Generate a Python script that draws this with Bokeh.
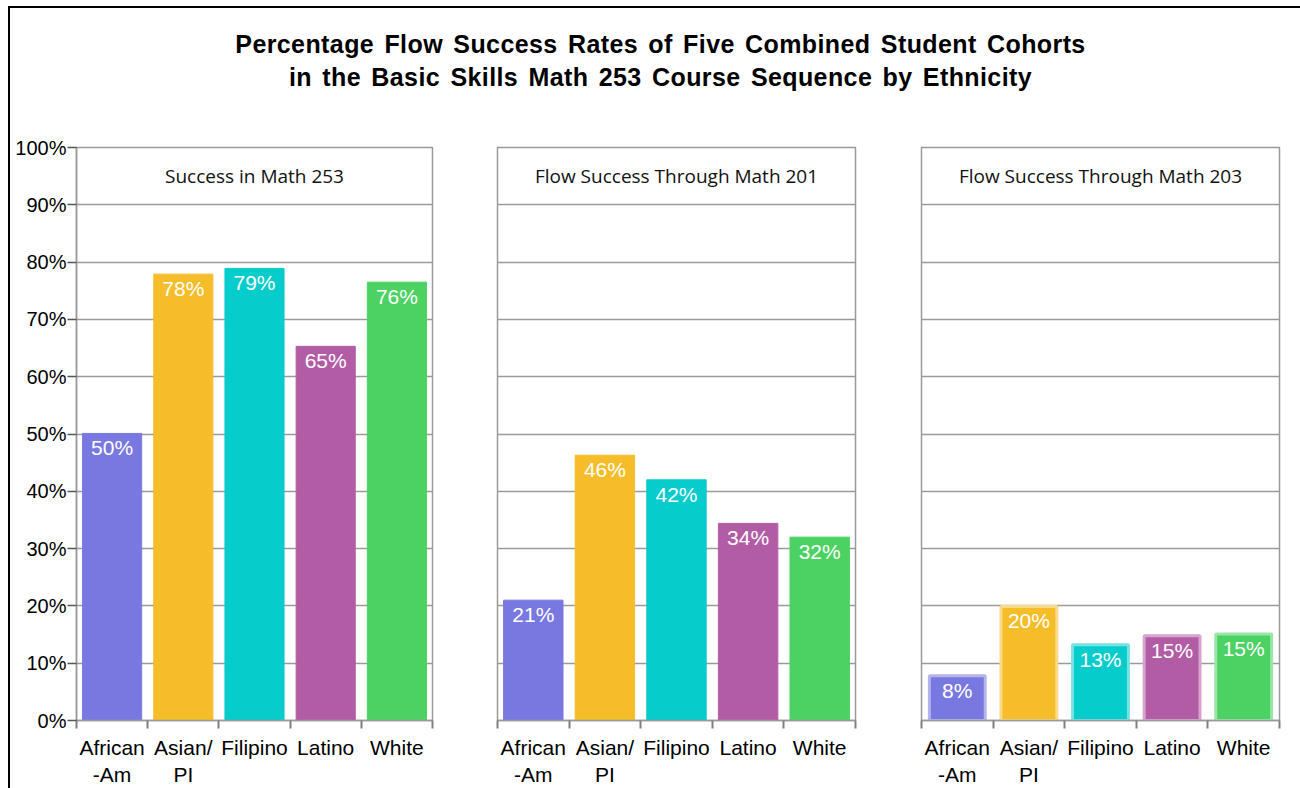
from bokeh.plotting import figure
from bokeh.layouts import row, column
from bokeh.models import FixedTicker, Range1d, Div, Label, ColumnDataSource
from bokeh.core.properties import value
from bokeh.embed import file_html
from bokeh.resources import INLINE

# ---------------- data ----------------
categories = ["African\n-Am", "Asian/\nPI", "Filipino", "Latino", "White"]
bar_colors = ["#7878E0", "#F5BD29", "#06CCCC", "#B35CA6", "#4CD163"]
panel_titles = ["Success in Math 253", "Flow Success Through Math 201", "Flow Success Through Math 203"]

math253_values = [50.1, 77.9, 78.9, 65.3, 76.5]
math253_labels = ["50%", "78%", "79%", "65%", "76%"]
math201_values = [21.0, 46.3, 42.0, 34.4, 32.0]
math201_labels = ["21%", "46%", "42%", "34%", "32%"]
math203_values = [7.8, 19.9, 13.2, 14.8, 15.1]
math203_labels = ["8%", "20%", "13%", "15%", "15%"]

y_ticks = [0, 10, 20, 30, 40, 50, 60, 70, 80, 90, 100]
y_tick_labels = ["0%", "10%", "20%", "30%", "40%", "50%", "60%", "70%", "80%", "90%", "100%"]

title_text = ("Percentage Flow Success Rates of Five Combined Student Cohorts<br>"
              "in the Basic Skills Math 253 Course Sequence by Ethnicity")

FONT = "Liberation Sans"
GRID = "#9a9a9a"


def lighten(hex_color, f=0.45):
    h = hex_color.lstrip("#")
    r, g, b = (int(h[i:i + 2], 16) for i in (0, 2, 4))
    r = int(r + (255 - r) * f)
    g = int(g + (255 - g) * f)
    b = int(b + (255 - b) * f)
    return "#%02x%02x%02x" % (r, g, b)


def make_panel(values, labels, title, width, b_left, b_right, show_y, outlined):
    n = len(categories)
    p = figure(width=width, height=682, x_range=Range1d(-0.5, n - 0.5), y_range=Range1d(0, 100),
               output_backend="svg", toolbar_location=None,
               y_axis_location="left" if show_y else None,
               min_border_left=b_left, min_border_right=b_right,
               min_border_top=40, min_border_bottom=66)
    p.background_fill_color = "white"
    p.border_fill_color = "white"
    p.outline_line_color = GRID
    p.outline_line_width = 1.5
    p.outline_line_alpha = 1.0

    # x axis: labels centred, ticks at category boundaries
    xa = p.xaxis[0]
    xa.ticker = FixedTicker(ticks=list(range(n)), minor_ticks=[i - 0.5 for i in range(n + 1)])
    xa.major_label_overrides = {i: categories[i] for i in range(n)}
    xa.major_tick_line_color = None
    xa.major_tick_out = 8
    xa.major_tick_in = 0
    xa.minor_tick_line_color = "#808080"
    xa.minor_tick_line_width = 2
    xa.minor_tick_out = 8
    xa.minor_tick_in = 0
    xa.axis_line_color = GRID
    xa.axis_line_width = 1.5
    xa.major_label_text_font = FONT
    xa.major_label_text_font_size = "21px"
    xa.major_label_text_color = "black"
    xa.major_label_standoff = 7

    if show_y:
        ya = p.yaxis[0]
        ya.ticker = FixedTicker(ticks=y_ticks)
        ya.major_label_overrides = {t: l for t, l in zip(y_ticks, y_tick_labels)}
        ya.axis_line_color = GRID
        ya.axis_line_width = 1.5
        ya.major_tick_line_color = "#555555"
        ya.major_tick_line_width = 1.5
        ya.major_tick_out = 9
        ya.major_tick_in = 0
        ya.minor_tick_line_color = None
        ya.major_label_text_font = FONT
        ya.major_label_text_font_size = "20px"
        ya.major_label_text_color = "black"
        ya.major_label_standoff = 1

    p.xgrid.visible = False
    p.ygrid.ticker = FixedTicker(ticks=y_ticks[1:-1])
    p.ygrid.grid_line_color = GRID
    p.ygrid.grid_line_width = 1.5

    src = ColumnDataSource(dict(x=list(range(n)), top=values, color=bar_colors,
                                edge=[lighten(c) for c in bar_colors], label=labels))
    if outlined:
        p.vbar(x="x", top="top", bottom=0, width=0.78, source=src,
               fill_color="color", line_color="edge", line_width=3)
    else:
        p.vbar(x="x", top="top", bottom=0, width=0.83, source=src,
               fill_color="color", line_color="color", line_width=1)

    p.text(x="x", y="top", text="label", source=src, text_align="center", text_baseline="top",
           text_color="white", text_font=value(FONT), text_font_size="21px", y_offset=3)

    p.add_layout(Label(x=(n - 1) / 2, y=95, text=title, text_align="center", text_baseline="middle",
                       text_font="Open Sans", text_font_size="19px", text_color="#111111"))
    return p


p1 = make_panel(math253_values, math253_labels, panel_titles[0], 454, 66, 32, True, False)
p2 = make_panel(math201_values, math201_labels, panel_titles[1], 423, 33, 32, False, False)
p3 = make_panel(math203_values, math203_labels, panel_titles[2], 405, 34, 13, False, True)

title = Div(text=('<div style="box-sizing:border-box;width:1282px;text-align:center;font-weight:bold;'
                  'font-size:25px;letter-spacing:0.4px;word-spacing:3px;'
                  'font-family:\'Liberation Sans\',Arial,sans-serif;line-height:33px;'
                  'padding-top:15px;padding-left:9px;color:#000;">' + title_text + '</div>'),
            width=1282, height=89)

layout = column(title, row(p1, p2, p3), styles={"border-left": "2px solid black",
                                                "border-top": "2px solid black",
                                                "margin-left": "8px",
                                                "margin-top": "6px"})

open("out.html", "w").write(file_html(layout, INLINE))
